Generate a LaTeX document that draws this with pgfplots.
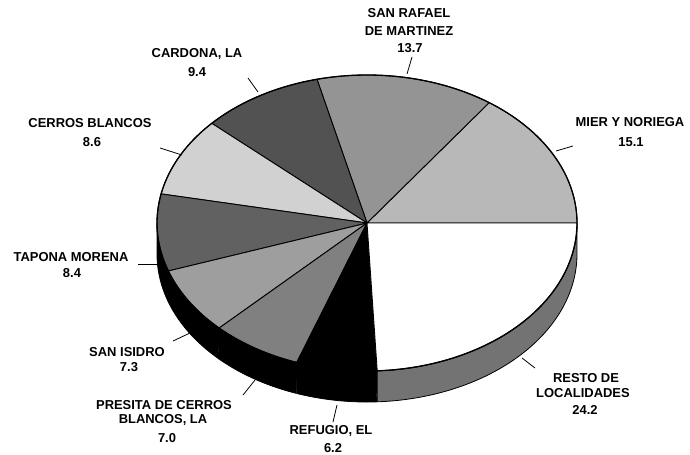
\documentclass[border=0pt]{standalone}
\usepackage{pgfplots}
\pgfplotsset{compat=1.18}
\usepackage{fontspec}
\setmainfont{Liberation Sans}
\newcommand\lbl{\fontsize{13}{15}\selectfont\bfseries}
\def\cx{367}\def\cy{223}\def\rx{210}\def\ry{148}\def\dep{31}
\def\tot{99.9}
\def\cum{0}
\newcommand\slice[3]{%
  \pgfmathsetmacro\aS{\cum}%
  \pgfmathsetmacro\aE{\cum+#1*360/\tot}%
  \xdef\cum{\aE}%
  \pgfmathsetmacro\sS{max(\aS,180)}%
  \pgfmathsetmacro\sE{min(\aE,360)}%
  \ifdim\sE pt>\sS pt
    \edef\tmp{\noexpand\addplot[draw=black,line width=0.8pt,fill=#3,mark=none,domain=0:2,samples=241,variable=\noexpand\u] ({\cx+\rx*cos(\sS+(\sE-\sS)*(1-abs(1-\noexpand\u)))},{\cy-\ry*sin(\sS+(\sE-\sS)*(1-abs(1-\noexpand\u)))+\dep*(\noexpand\u>1.001)}) -- cycle;}%
    \tmp
  \fi
  \edef\tmp{\noexpand\addplot[draw=black,line width=0.9pt,fill=#2,mark=none,domain=\aS:\aE,samples=60,variable=\noexpand\t] ({\cx+\rx*cos(\noexpand\t)},{\cy-\ry*sin(\noexpand\t)}) -- (axis cs:\cx,\cy) -- cycle;}%
  \tmp
}
\newcommand\lab[3]{\node[anchor=base,font=\lbl,inner sep=0pt] at (axis cs:#1,#2+4.6) {#3};}
\begin{document}
\begin{tikzpicture}
\begin{axis}[scale only axis, width=690bp, height=454bp,
  xmin=0, xmax=690, ymin=0, ymax=454, y dir=reverse,
  hide axis, clip=false]
\path (axis cs:0,0) rectangle (axis cs:690,454);
% value, top fill, side fill
\slice{15.1}{black!28}{black}   % MIER Y NORIEGA
\slice{13.7}{black!42}{black}   % SAN RAFAEL DE MARTINEZ
\slice{9.4}{black!68}{black}    % CARDONA, LA
\slice{8.6}{black!18}{black}    % CERROS BLANCOS
\slice{8.4}{black!62}{black}    % TAPONA MORENA
\slice{7.3}{black!38}{black}    % SAN ISIDRO
\slice{7.0}{black!50}{black}    % PRESITA DE CERROS BLANCOS, LA
\slice{6.2}{black}{black}       % REFUGIO, EL
\slice{24.2}{white}{black!55}   % RESTO DE LOCALIDADES
\addplot[draw=black,line width=1.3pt,mark=none,domain=0:360,samples=181,variable=\t] ({\cx+\rx*cos(\t)},{\cy-\ry*sin(\t)});
% leader lines
\draw[line width=0.8pt] (axis cs:412,57) -- (axis cs:407,74);
\draw[line width=0.8pt] (axis cs:556,151) -- (axis cs:573,146);
\draw[line width=0.8pt] (axis cs:248,78) -- (axis cs:258,92);
\draw[line width=0.8pt] (axis cs:160,148) -- (axis cs:182,155);
\draw[line width=0.8pt] (axis cs:138,264) -- (axis cs:158,264);
\draw[line width=0.8pt] (axis cs:173,341) -- (axis cs:190,333);
\draw[line width=0.8pt] (axis cs:243,395) -- (axis cs:255,380);
\draw[line width=0.8pt] (axis cs:333,422) -- (axis cs:337,405);
\draw[line width=0.8pt] (axis cs:535,368) -- (axis cs:522,358);
% labels
\lab{409}{13}{SAN RAFAEL}
\lab{409}{31}{DE MARTINEZ}
\lab{410}{48}{13.7}
\lab{630}{122}{MIER Y NORIEGA}
\lab{631}{142}{15.1}
\lab{197}{53}{CARDONA, LA}
\lab{197}{72}{9.4}
\lab{90}{123}{CERROS BLANCOS}
\lab{92}{142}{8.6}
\lab{71}{257}{TAPONA MORENA}
\lab{72}{273}{8.4}
\lab{127}{352}{SAN ISIDRO}
\lab{129}{367}{7.3}
\lab{164}{405}{PRESITA DE CERROS}
\lab{163}{419}{BLANCOS, LA}
\lab{167}{438}{7.0}
\lab{331}{430}{REFUGIO, EL}
\lab{333}{448}{6.2}
\lab{586}{378}{RESTO DE}
\lab{583}{393}{LOCALIDADES}
\lab{585}{410}{24.2}
\end{axis}
\end{tikzpicture}
\end{document}
